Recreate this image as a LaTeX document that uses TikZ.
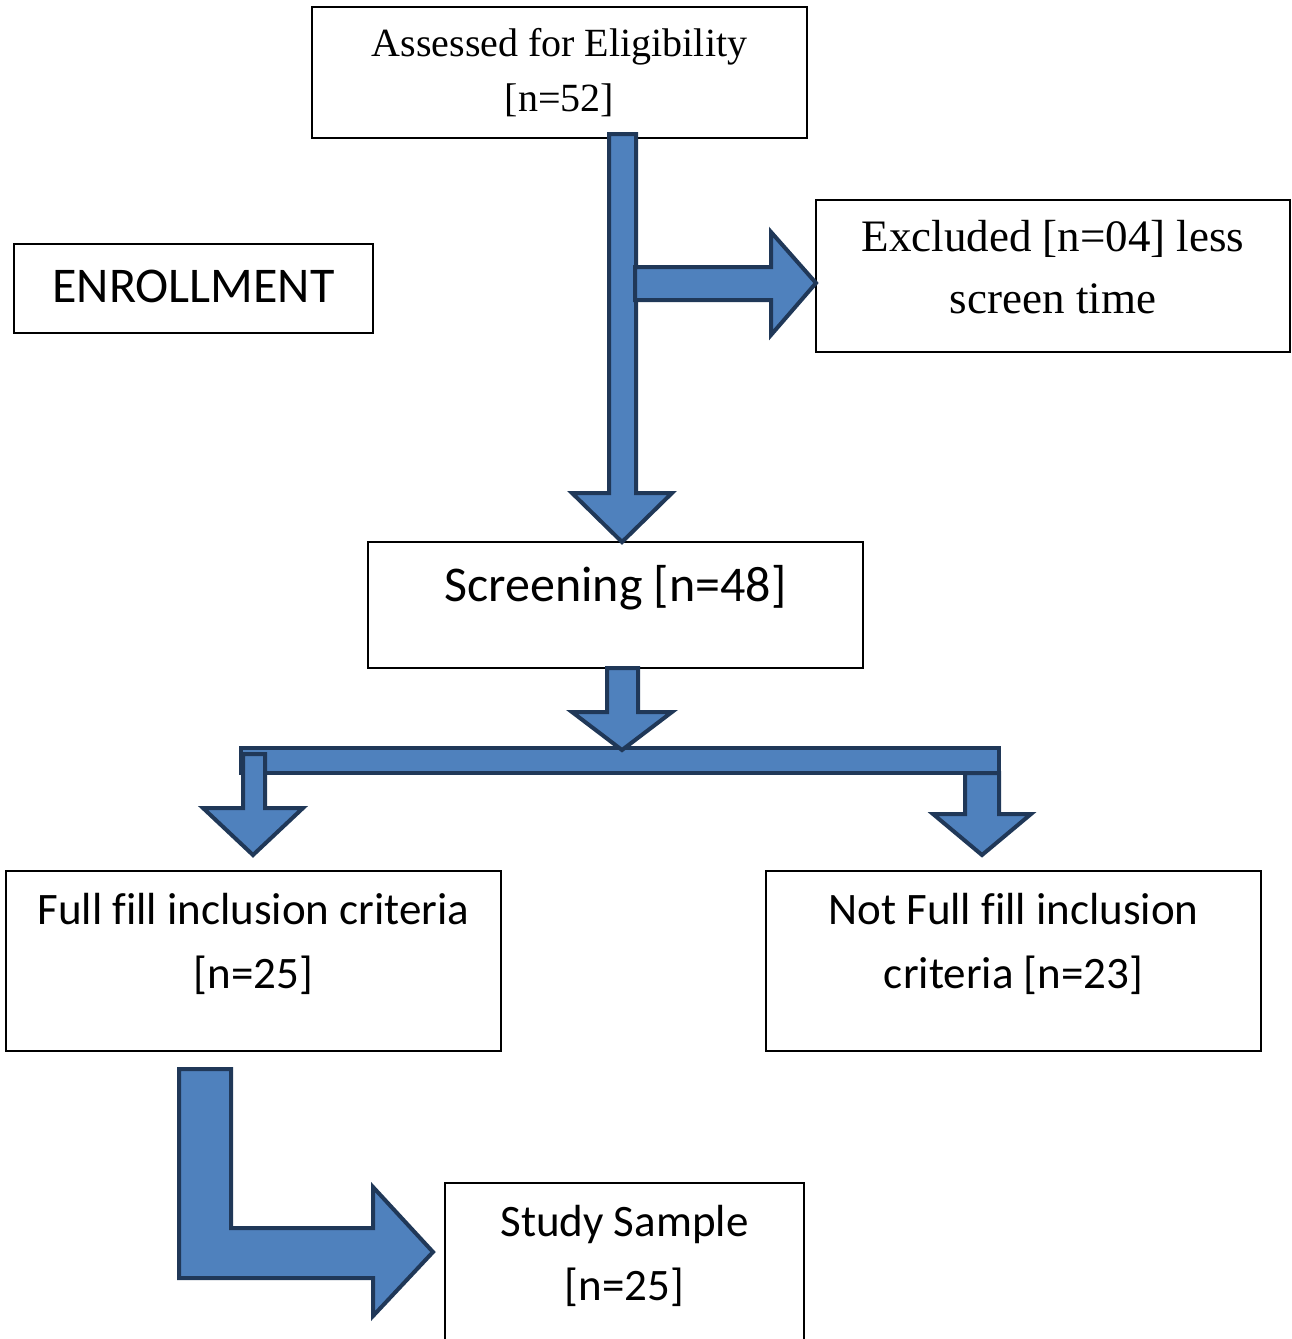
\documentclass[tikz,border=0pt]{standalone}
\usepackage{fontspec}
\setmainfont{Liberation Serif}
\newfontfamily\calibri[Ligatures=NoCommon]{Carlito}
\usetikzlibrary{calc}

\definecolor{arrowfill}{RGB}{79,129,189}
\definecolor{arrowline}{RGB}{32,56,88}

\begin{document}
\begin{tikzpicture}[x=0.5pt, y=-0.5pt]
	\useasboundingbox (0,0) rectangle (1291,1339);
	\tikzstyle{every node}=[align=flush center, inner sep=0pt, outer sep=0pt]
	\tikzstyle{box}=[draw, line width=0.8pt, anchor=north west]
	\tikzstyle{block}=[fill=arrowfill, draw=arrowline, line width=2pt, line join=miter]
	\tikzstyle{serif}=[font=\fontsize{20pt}{27.5pt}\selectfont]
	\tikzstyle{serifbig}=[font=\fontsize{22.5pt}{30.8pt}\selectfont]
	\tikzstyle{sansbig}=[font={\calibri\fontsize{25pt}{30pt}\selectfont}]
	\tikzstyle{sans}=[font={\calibri\fontsize{22.5pt}{32pt}\selectfont}]

	\node[box, serif, text width=247.5pt, text height=24.85pt, text depth=40.65pt] (assess) at (312, 7) {Assessed for Eligibility \\ {[n=52]}};
	\node[box, sansbig, text width=179.5pt, text height=29.35pt, text depth=15.15pt] (enrol) at (14, 244) {ENROLLMENT};
	\node[box, serifbig, text width=237pt, text height=25.85pt, text depth=50.15pt] (excl) at (816, 200) {Excluded [n=04] less \\ screen time};
	\node[box, sansbig, text width=247.5pt, text height=29.5pt, text depth=33.5pt] (screen) at (368, 542) {Screening [n=48]};
	\node[box, sans, text width=247.5pt, text height=26.5pt, text depth=63.5pt] (incl) at (6, 871) {Full fill inclusion criteria \\ {[n=25]}};
	\node[box, sans, text width=247.5pt, text height=26.5pt, text depth=63.5pt] (notincl) at (766, 871) {Not Full fill inclusion \\ criteria [n=23]};
	\node[box, sans, text width=179.5pt, text height=26.5pt, text depth=67pt] (sample) at (445, 1183) {Study Sample \\ {[n=25]}};

	\draw[block] (609,134) -- (636,134) -- (636,493) -- (672,493) -- (622,0 |- screen.north) -- (572,493) -- (609,493) -- cycle;
	\draw[block] (635,267) -- (771,267) -- (771,232) -- (excl.west |- 0,283) -- (771,335) -- (771,300) -- (635,300) -- cycle;

	\draw[block] (241,748) rectangle (999,773);
	\draw[block] (607,0 |- screen.south) -- (638,0 |- screen.south) -- (638,712) -- (672,712) -- (622,750) -- (572,712) -- (607,712) -- cycle;
	\draw[block] (243,754) -- (265,754) -- (265,808) -- (303,808) -- (253,855) -- (203,808) -- (243,808) -- cycle;
	\draw[block] (965,773) -- (999,773) -- (999,814) -- (1031,814) -- (982,855) -- (933,814) -- (965,814) -- cycle;

	\draw[block] (179,1069) -- (231,1069) -- (231,1228) -- (373,1228) -- (373,1187) -- (433,1252) -- (373,1316) -- (373,1278) -- (179,1278) -- cycle;
\end{tikzpicture}
\end{document}
